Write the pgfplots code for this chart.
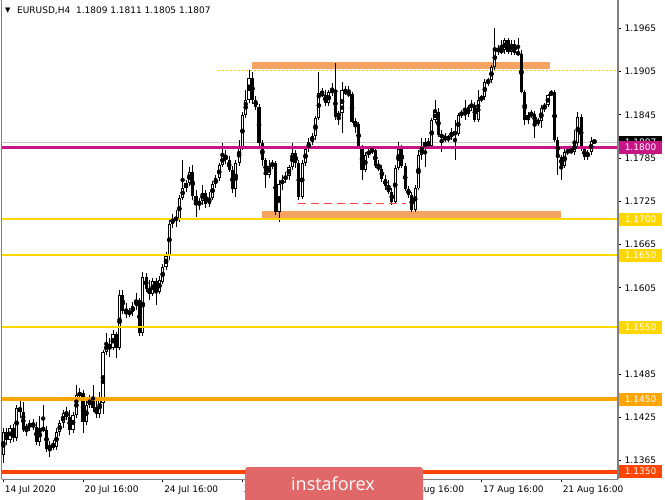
\documentclass[border=0pt]{standalone}
\usepackage{fontspec}
\setmainfont{DejaVu Sans}
\newfontfamily\wmfont{Open Sans}
\usepackage{pgfplots}
\pgfplotsset{compat=1.18}
\usepackage{pgfplotstable}

\definecolor{magl}{RGB}{199,21,133}
\definecolor{goldl}{RGB}{255,215,0}
\definecolor{orangel}{RGB}{255,165,0}
\definecolor{redl}{RGB}{255,69,0}
\definecolor{sandy}{RGB}{244,164,96}
\definecolor{wm}{RGB}{224,104,104}
\definecolor{dashred}{RGB}{255,70,70}
\definecolor{frameg}{RGB}{128,128,128}

\pgfplotstableread{
i o h l c
0 1.1373 1.1410 1.1362 1.1405
1 1.1405 1.1410 1.1387 1.1394
2 1.1394 1.1415 1.1390 1.1410
3 1.1410 1.1416 1.1391 1.1397
4 1.1397 1.1442 1.1392 1.1438
5 1.1438 1.1449 1.1424 1.1433
6 1.1433 1.1446 1.1405 1.1408
7 1.1408 1.1416 1.1399 1.1413
8 1.1413 1.1422 1.1406 1.1416
9 1.1416 1.1423 1.1408 1.1412
10 1.1412 1.1419 1.1387 1.1391
11 1.1391 1.1427 1.1386 1.1410
12 1.1410 1.1442 1.1405 1.1408
13 1.1408 1.1413 1.1377 1.1381
14 1.1381 1.1392 1.1370 1.1387
15 1.1387 1.1394 1.1380 1.1384
16 1.1384 1.1410 1.1380 1.1405
17 1.1405 1.1422 1.1399 1.1417
18 1.1417 1.1435 1.1410 1.1431
19 1.1431 1.1440 1.1422 1.1426
20 1.1426 1.1435 1.1401 1.1408
21 1.1408 1.1433 1.1404 1.1428
22 1.1428 1.1470 1.1424 1.1456
23 1.1456 1.1466 1.1449 1.1459
24 1.1459 1.1463 1.1404 1.1419
25 1.1419 1.1449 1.1415 1.1442
26 1.1442 1.1456 1.1438 1.1449
27 1.1449 1.1470 1.1433 1.1438
28 1.1438 1.1449 1.1424 1.1430
29 1.1430 1.1460 1.1424 1.1449
30 1.1445 1.1519 1.1430 1.1516
31 1.1516 1.1542 1.1512 1.1527
32 1.1527 1.1535 1.1509 1.1521
33 1.1521 1.1546 1.1519 1.1541
34 1.1541 1.1544 1.1508 1.1521
35 1.1521 1.1602 1.1519 1.1595
36 1.1595 1.1602 1.1569 1.1573
37 1.1573 1.1584 1.1563 1.1569
38 1.1569 1.1577 1.1565 1.1571
39 1.1571 1.1585 1.1566 1.1580
40 1.1580 1.1598 1.1574 1.1588
41 1.1588 1.1591 1.1538 1.1542
42 1.1542 1.1627 1.1538 1.1620
43 1.1620 1.1626 1.1599 1.1603
44 1.1603 1.1616 1.1588 1.1596
45 1.1596 1.1619 1.1594 1.1614
46 1.1614 1.1619 1.1581 1.1599
47 1.1599 1.1621 1.1596 1.1616
48 1.1613 1.1638 1.1610 1.1634
49 1.1634 1.1655 1.1630 1.1649
50 1.1649 1.1699 1.1644 1.1694
51 1.1694 1.1707 1.1688 1.1702
52 1.1702 1.1713 1.1689 1.1699
53 1.1699 1.1734 1.1696 1.1730
54 1.1730 1.1782 1.1727 1.1743
55 1.1743 1.1755 1.1738 1.1750
56 1.1750 1.1773 1.1746 1.1766
57 1.1766 1.1775 1.1727 1.1732
58 1.1732 1.1741 1.1703 1.1720
59 1.1720 1.1730 1.1713 1.1725
60 1.1725 1.1748 1.1720 1.1737
61 1.1737 1.1741 1.1716 1.1721
62 1.1721 1.1738 1.1717 1.1730
63 1.1730 1.1753 1.1727 1.1749
64 1.1749 1.1762 1.1743 1.1757
65 1.1757 1.1778 1.1753 1.1775
66 1.1775 1.1806 1.1773 1.1789
67 1.1789 1.1796 1.1777 1.1782
68 1.1782 1.1788 1.1766 1.1768
69 1.1768 1.1774 1.1737 1.1742
70 1.1742 1.1782 1.1731 1.1778
71 1.1778 1.1810 1.1774 1.1800
72 1.1800 1.1849 1.1796 1.1845
73 1.1845 1.1879 1.1841 1.1866
74 1.1866 1.1907 1.1861 1.1896
75 1.1896 1.1904 1.1860 1.1866
76 1.1866 1.1871 1.1852 1.1856
77 1.1856 1.1860 1.1802 1.1806
78 1.1806 1.1810 1.1774 1.1782
79 1.1782 1.1785 1.1743 1.1762
80 1.1762 1.1782 1.1757 1.1774
81 1.1774 1.1782 1.1770 1.1778
82 1.1778 1.1781 1.1706 1.1710
83 1.1710 1.1755 1.1696 1.1749
84 1.1749 1.1762 1.1741 1.1755
85 1.1755 1.1766 1.1750 1.1760
86 1.1760 1.1775 1.1755 1.1773
87 1.1773 1.1806 1.1768 1.1792
88 1.1792 1.1796 1.1771 1.1778
89 1.1778 1.1782 1.1727 1.1731
90 1.1731 1.1782 1.1728 1.1778
91 1.1778 1.1800 1.1774 1.1798
92 1.1798 1.1813 1.1793 1.1807
93 1.1807 1.1820 1.1803 1.1816
94 1.1816 1.1843 1.1810 1.1841
95 1.1841 1.1904 1.1838 1.1875
96 1.1875 1.1882 1.1870 1.1872
97 1.1872 1.1879 1.1857 1.1861
98 1.1861 1.1879 1.1857 1.1877
99 1.1877 1.1889 1.1871 1.1879
100 1.1879 1.1917 1.1838 1.1842
101 1.1842 1.1850 1.1831 1.1848
102 1.1848 1.1890 1.1820 1.1879
103 1.1879 1.1885 1.1872 1.1875
104 1.1875 1.1885 1.1870 1.1874
105 1.1874 1.1877 1.1834 1.1835
106 1.1835 1.1841 1.1820 1.1832
107 1.1832 1.1835 1.1798 1.1800
108 1.1800 1.1803 1.1755 1.1768
109 1.1768 1.1793 1.1766 1.1789
110 1.1789 1.1799 1.1785 1.1795
111 1.1795 1.1800 1.1791 1.1796
112 1.1796 1.1799 1.1771 1.1774
113 1.1774 1.1782 1.1767 1.1770
114 1.1770 1.1775 1.1752 1.1756
115 1.1756 1.1762 1.1741 1.1746
116 1.1746 1.1755 1.1735 1.1738
117 1.1738 1.1743 1.1720 1.1724
118 1.1724 1.1775 1.1721 1.1771
119 1.1771 1.1807 1.1768 1.1798
120 1.1798 1.1803 1.1771 1.1774
121 1.1774 1.1778 1.1739 1.1742
122 1.1742 1.1746 1.1730 1.1734
123 1.1734 1.1738 1.1710 1.1713
124 1.1713 1.1748 1.1710 1.1743
125 1.1743 1.1796 1.1741 1.1789
126 1.1789 1.1813 1.1782 1.1800
127 1.1800 1.1813 1.1773 1.1807
128 1.1807 1.1813 1.1799 1.1802
129 1.1802 1.1841 1.1798 1.1838
130 1.1838 1.1866 1.1834 1.1849
131 1.1849 1.1854 1.1814 1.1817
132 1.1817 1.1824 1.1793 1.1814
133 1.1814 1.1820 1.1807 1.1811
134 1.1811 1.1817 1.1807 1.1814
135 1.1814 1.1827 1.1810 1.1821
136 1.1821 1.1838 1.1782 1.1818
137 1.1818 1.1848 1.1816 1.1845
138 1.1845 1.1852 1.1841 1.1848
139 1.1848 1.1866 1.1838 1.1846
140 1.1846 1.1859 1.1842 1.1856
141 1.1856 1.1866 1.1850 1.1859
142 1.1859 1.1863 1.1835 1.1838
143 1.1838 1.1879 1.1835 1.1866
144 1.1866 1.1872 1.1863 1.1870
145 1.1870 1.1895 1.1866 1.1890
146 1.1890 1.1896 1.1885 1.1893
147 1.1893 1.1914 1.1889 1.1911
148 1.1911 1.1965 1.1907 1.1938
149 1.1938 1.1942 1.1928 1.1932
150 1.1932 1.1949 1.1929 1.1935
151 1.1935 1.1952 1.1929 1.1949
152 1.1949 1.1952 1.1929 1.1932
153 1.1932 1.1949 1.1928 1.1943
154 1.1943 1.1949 1.1928 1.1931
155 1.1931 1.1952 1.1927 1.1930
156 1.1930 1.1935 1.1875 1.1877
157 1.1877 1.1879 1.1831 1.1838
158 1.1838 1.1849 1.1832 1.1845
159 1.1845 1.1852 1.1841 1.1846
160 1.1846 1.1850 1.1813 1.1834
161 1.1834 1.1841 1.1830 1.1836
162 1.1836 1.1859 1.1827 1.1854
163 1.1854 1.1861 1.1849 1.1859
164 1.1859 1.1874 1.1856 1.1872
165 1.1872 1.1879 1.1871 1.1877
166 1.1877 1.1879 1.1807 1.1810
167 1.1810 1.1814 1.1762 1.1787
168 1.1787 1.1789 1.1755 1.1774
169 1.1774 1.1799 1.1771 1.1793
170 1.1793 1.1799 1.1789 1.1796
171 1.1796 1.1800 1.1791 1.1793
172 1.1793 1.1824 1.1789 1.1806
173 1.1806 1.1849 1.1802 1.1842
174 1.1842 1.1846 1.1795 1.1798
175 1.1798 1.1802 1.1782 1.1787
176 1.1787 1.1796 1.1782 1.1793
177 1.1793 1.1814 1.1789 1.1809
178 1.1809 1.1811 1.1805 1.1807
}\candles

\begin{document}
\begin{tikzpicture}[x=1pt,y=1pt]
\useasboundingbox (0,0) rectangle (665,499);
\begin{axis}[
  at={(2pt,20pt)}, anchor=south west,
  width=616pt, height=479pt, scale only axis,
  xmin=-0.4, xmax=185.1, ymin=1.13396, ymax=1.20043,
  clip=false,
  axis line style={draw=none},
  tick align=outside,
  major tick length=3pt,
  tick style={black, line width=0.6pt},
  xtick pos=left, ytick pos=right,
  yticklabel pos=right,
  xtick={0,24,48,72,96,120,144,168},
  xticklabels={14 Jul 2020,20 Jul 16:00,24 Jul 16:00,30 Jul 16:00,5 Aug 16:00,11 Aug 16:00,17 Aug 16:00,21 Aug 16:00},
  xticklabel style={anchor=north west, xshift=-2pt, yshift=0pt, font=\fontsize{9}{10}\selectfont},
  ytick={1.1365,1.1425,1.1485,1.1545,1.1605,1.1665,1.1725,1.1785,1.1845,1.1905,1.1965},
  yticklabels={1.1365,1.1425,1.1485,1.1545,1.1605,1.1665,1.1725,1.1785,1.1845,1.1905,1.1965},
  yticklabel style={anchor=west, font=\fontsize{9}{10}\selectfont},
  scaled y ticks=false,
  unbounded coords=jump,
  /pgf/number format/assume math mode=true,
]
% zones
\addplot[draw=none, fill=sandy] coordinates {(74.9,1.1909) (164.7,1.1909) (164.7,1.1918) (74.9,1.1918)} --cycle;
\addplot[draw=none, fill=sandy] coordinates {(77.9,1.1701) (168.0,1.1701) (168.0,1.1712) (77.9,1.1712)} --cycle;
% current price line
\addplot[draw=black!22, line width=0.8pt] coordinates {(-0.4,1.1807) (185.1,1.1807)};
% dotted resistance
\addplot[draw=goldl!85!orange, line width=1pt, dash pattern=on 2pt off 2pt] coordinates {(64.7,1.1907) (185.1,1.1907)};

% candles: wicks
\addplot[only marks, mark=none, error bars/.cd, y dir=both, y explicit, error mark=none,
  error bar style={black, line width=0.8pt}]
  table[x=i, y expr={(\thisrow{h}+\thisrow{l})/2}, y error expr={(\thisrow{h}-\thisrow{l})/2}] {\candles};
% bodies
\addplot[only marks, mark=none, error bars/.cd, y dir=both, y explicit, error mark=none,
  error bar style={black, line width=3.2pt}]
  table[x=i, y expr={(\thisrow{o}+\thisrow{c})/2}, y error expr={max(abs(\thisrow{c}-\thisrow{o})/2,0.00004)}] {\candles};
% bull interiors
\addplot[only marks, mark=none, error bars/.cd, y dir=both, y explicit, error mark=none,
  error bar style={white, line width=1.2pt}]
  table[x=i, y expr={(\thisrow{o}+\thisrow{c})/2}, y error expr={max((\thisrow{c}-\thisrow{o})/2-0.00012,0)}] {\candles};

% red dashed support (drawn as separate dashes)
\addplot[draw=dashred, line width=1.5pt] coordinates {
 (88.8,1.1722) (91.2,1.1722) (91.9,nan)
 (92.7,1.1722) (95.1,1.1722) (95.8,nan)
 (96.6,1.1722) (99.0,1.1722) (99.7,nan)
 (100.5,1.1722) (102.9,1.1722) (103.6,nan)
 (104.4,1.1722) (106.8,1.1722) (107.5,nan)
 (108.3,1.1722) (110.7,1.1722) (111.4,nan)
 (112.2,1.1722) (114.6,1.1722) (115.3,nan)
 (116.1,1.1722) (118.5,1.1722) (119.2,nan)
 (120.0,1.1722) (121.4,1.1722)};
\addplot[draw=magl, line width=2.8pt] coordinates {(-0.4,1.1800) (185.1,1.1800)};
\addplot[draw=goldl, line width=2pt] coordinates {(-0.4,1.1700) (185.1,1.1700)};
\addplot[draw=goldl, line width=2pt] coordinates {(-0.4,1.1650) (185.1,1.1650)};
\addplot[draw=goldl, line width=2pt] coordinates {(-0.4,1.1550) (185.1,1.1550)};
\addplot[draw=orangel, line width=4pt] coordinates {(-0.4,1.1450) (185.1,1.1450)};
\addplot[draw=redl, line width=4pt] coordinates {(-0.4,1.1350) (185.1,1.1350)};

% frame
\draw[frameg, line width=1pt] (rel axis cs:0,0) -- (rel axis cs:0,1);
\draw[frameg, line width=1.6pt] (rel axis cs:1,0) -- (rel axis cs:1,1);
\draw[frameg, line width=1pt] (rel axis cs:0,0) -- (rel axis cs:1,0);

% price labels
\tikzset{plab/.style={anchor=west, xshift=0.8pt, inner xsep=4pt, inner ysep=0pt, minimum height=13pt, minimum width=43pt, text=white, font=\fontsize{9}{10}\selectfont}}
\node[plab, fill=black] at (axis cs:185.1,1.1807) {1.1807};
\node[plab, fill=magl] at (axis cs:185.1,1.1800) {1.1800};
\node[plab, fill=goldl] at (axis cs:185.1,1.1700) {1.1700};
\node[plab, fill=goldl] at (axis cs:185.1,1.1650) {1.1650};
\node[plab, fill=goldl] at (axis cs:185.1,1.1550) {1.1550};
\node[plab, fill=orangel] at (axis cs:185.1,1.1450) {1.1450};
\node[plab, fill=redl] at (axis cs:185.1,1.1350) {1.1350};
\end{axis}

% title
\node[anchor=west, inner sep=0pt, font=\fontsize{7}{8}\selectfont] at (5,488.5) {▼};
\node[anchor=west, inner sep=0pt, font=\fontsize{9}{10}\selectfont] at (17,488.5) {EURUSD,H4\ \ 1.1809 1.1811 1.1805 1.1807};

% watermark
\fill[wm, rounded corners=3pt] (245,-4) rectangle (423,32);
\node[text=white, font=\wmfont\fontsize{18}{20}\selectfont] at (333,15) {instaforex};
\end{tikzpicture}
\end{document}
